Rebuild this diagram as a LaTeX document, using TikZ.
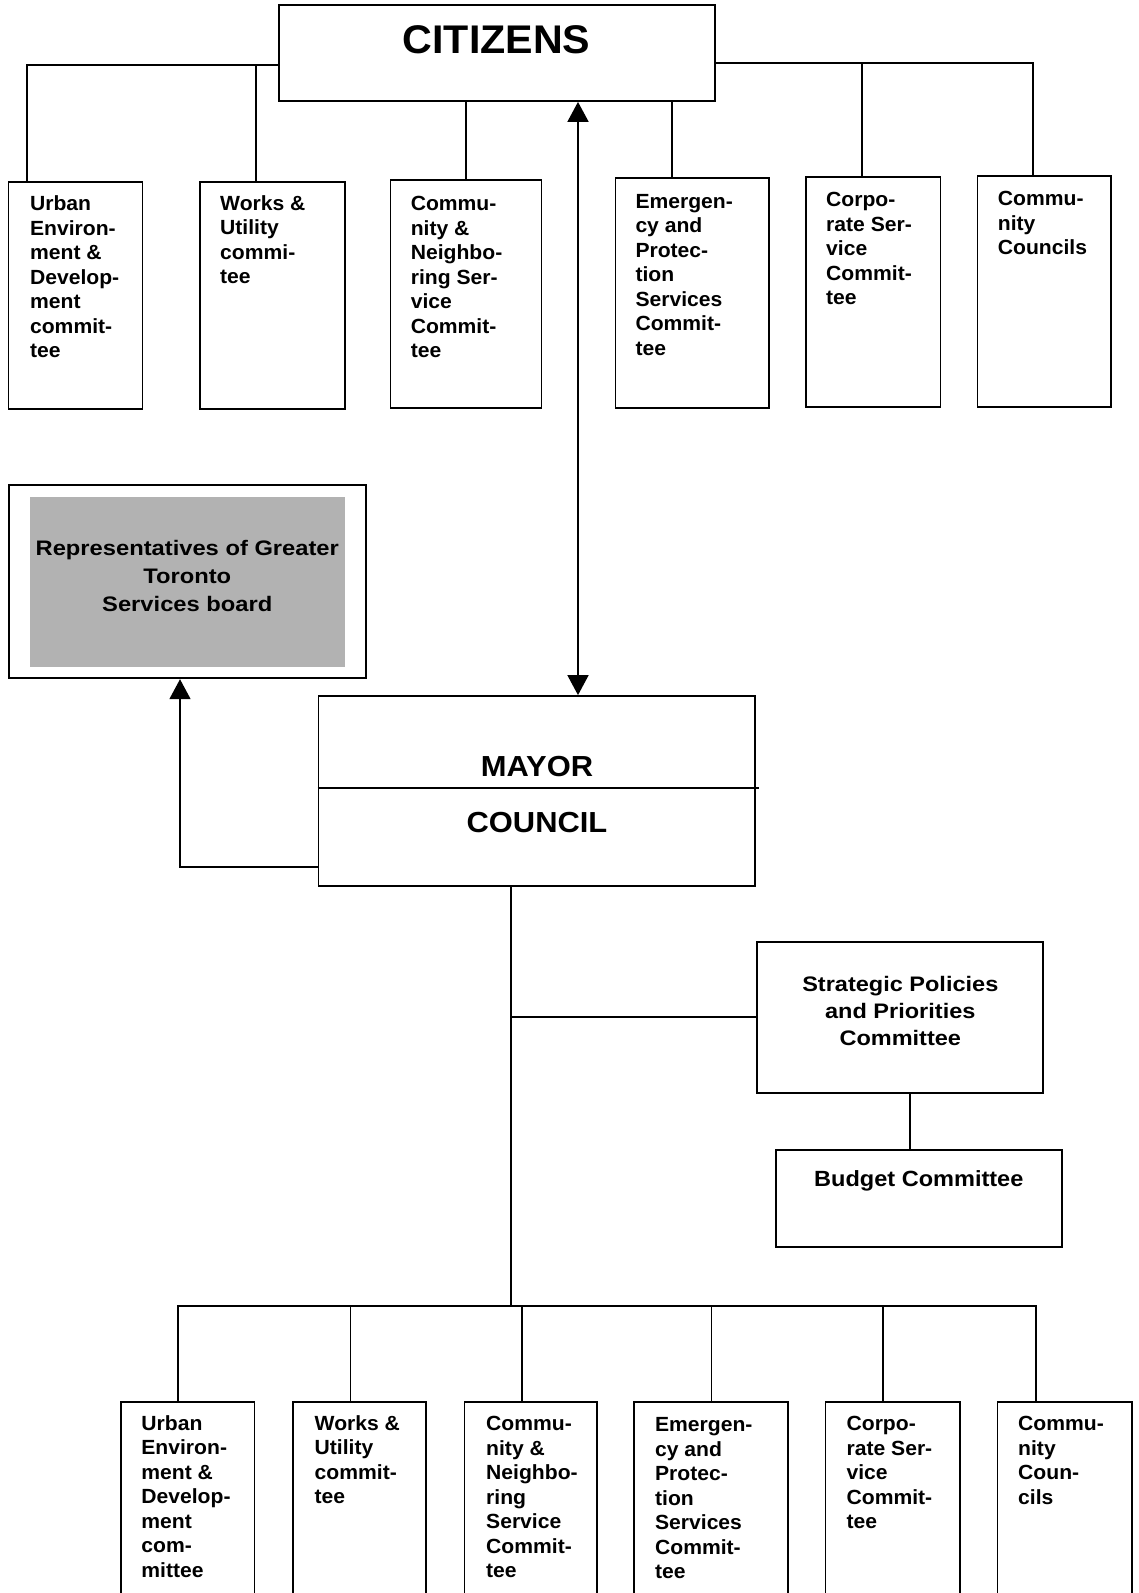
\documentclass[tikz,border=0pt]{standalone}
\usepackage{fontspec}
\usepackage{graphicx}
\setmainfont{Liberation Sans}
\usetikzlibrary{arrows.meta,fit}
\definecolor{shade}{RGB}{178,178,178}
\newcommand{\sx}[2]{\scalebox{#1}[1]{#2}}
\tikzset{tri/.tip={Triangle[length=20pt,width=21pt]}}
\begin{document}
\begin{tikzpicture}[x=1pt,y=-1pt,
  ln/.style={line width=1.8pt},
  box/.style={draw, line width=1.8pt, inner sep=0pt},
  tl/.style={inner sep=0pt, anchor=base west, font=\bfseries\fontsize{20.5}{24.5}\selectfont},
  cen/.style={inner sep=0pt, anchor=base}]
\useasboundingbox (0,0) rectangle (1138,1593);
\clip (0,0) rectangle (1138,1593);

% boxes
\node[box, fit={(278.6,5) (714.7,101)}] (cit) {};
\node[box, fit={(8.4,181.7) (142.4,409.3)}] (u1) {};
\node[box, fit={(199.8,181.7) (345.2,409.3)}] (u2) {};
\node[box, fit={(390.4,180) (541.5,408.3)}] (u3) {};
\node[box, fit={(615.5,178.3) (768.8,408.3)}] (u4) {};
\node[box, fit={(805.8,176.7) (940.5,407.3)}] (u5) {};
\node[box, fit={(977.5,175.7) (1111,406.7)}] (u6) {};
\node[fill=shade, inner sep=0pt, fit={(30,496.7) (345,667.3)}] (gr) {};
\node[box, fit={(8.7,485) (366,678.3)}] (rep) {};
\node[box, fit={(318.5,696) (755,886)}] (may) {};
\node[box, fit={(757.3,941.7) (1043.3,1093.3)}] (sp) {};
\node[box, fit={(776,1150) (1061.7,1246.7)}] (bud) {};
\node[box, fit={(120.6,1402) (254.4,1640)}] (b1) {};
\node[box, fit={(292.9,1402) (426,1640)}] (b2) {};
\node[box, fit={(464.5,1402) (597,1640)}] (b3) {};
\node[box, fit={(634.3,1402) (788,1640)}] (b4) {};
\node[box, fit={(825.5,1402) (960.3,1640)}] (b5) {};
\node[box, fit={(997.4,1402) (1132,1640)}] (b6) {};

% helper coordinates
\coordinate (yL) at (0,65);
\coordinate (yR) at (0,63.3);
\coordinate (xa) at (26.8,0);
\coordinate (xb) at (255.6,0);
\coordinate (xc) at (465.7,0);
\coordinate (xd) at (671.6,0);
\coordinate (xe) at (862.3,0);
\coordinate (xf) at (1033,0);
\coordinate (xm) at (578,0);
\coordinate (yr) at (0,867.3);
\coordinate (xr) at (180,0);
\coordinate (ydiv) at (0,788.3);
\coordinate (xdv) at (759,0);
\coordinate (xt) at (511,0);
\coordinate (ybus) at (0,1306);
\coordinate (ysp) at (0,1017.3);
\coordinate (xs) at (910,0);
\coordinate (x1) at (178.2,0);
\coordinate (x2) at (350.5,0);
\coordinate (x3) at (522,0);
\coordinate (x4) at (711.5,0);
\coordinate (x5) at (883,0);
\coordinate (x6) at (1035.8,0);

% top connectors
\draw[ln] (cit.west |- yL) -| (u1.north -| xa);
\draw[ln] (xb |- yL) -- (u2.north -| xb);
\draw[ln] (cit.east |- yR) -| (u6.north -| xf);
\draw[ln] (xe |- yR) -- (u5.north -| xe);
\draw[ln] (cit.south -| xc) -- (u3.north -| xc);
\draw[ln] (cit.south -| xd) -- (u4.north -| xd);
\draw[ln, tri-tri] (cit.south -| xm) -- (may.north -| xm);
\draw[ln, -tri] (may.west |- yr) -| (rep.south -| xr);
\draw[ln] (may.west |- ydiv) -- (xdv |- ydiv);

% lower connectors
\draw[ln] (may.south -| xt) -- (xt |- ybus);
\draw[ln] (xt |- ysp) -- (sp.west |- ysp);
\draw[ln] (sp.south -| xs) -- (bud.north -| xs);
\draw[ln] (b1.north -| x1) |- (x6 |- ybus) -- (b6.north -| x6);
\draw[ln] (x2 |- ybus) -- (b2.north -| x2);
\draw[ln] (x3 |- ybus) -- (b3.north -| x3);
\draw[ln] (x4 |- ybus) -- (b4.north -| x4);
\draw[ln] (x5 |- ybus) -- (b5.north -| x5);

% texts
\node[cen, font=\bfseries\fontsize{40}{46}\selectfont] (tcit) at (496.5,53.3) {\sx{1.03}{CITIZENS}};

\node[tl] (t1) at (29.9,210.7) {\sx{1.03}{\begin{tabular}[t]{@{}l@{}}Urban\\Environ-\\ment \&\\Develop-\\ment\\commit-\\tee\end{tabular}}};
\node[tl] (t2) at (220,210) {\sx{1.03}{\begin{tabular}[t]{@{}l@{}}Works \&\\Utility\\commi-\\tee\end{tabular}}};
\node[tl] (t3) at (410.6,210.7) {\sx{1.03}{\begin{tabular}[t]{@{}l@{}}Commu-\\nity \&\\Neighbo-\\ring Ser-\\vice\\Commit-\\tee\end{tabular}}};
\node[tl] (t4) at (635.3,208.3) {\sx{1.03}{\begin{tabular}[t]{@{}l@{}}Emergen-\\cy and\\Protec-\\tion\\Services\\Commit-\\tee\end{tabular}}};
\node[tl] (t5) at (826,206.7) {\sx{1.03}{\begin{tabular}[t]{@{}l@{}}Corpo-\\rate Ser-\\vice\\Commit-\\tee\end{tabular}}};
\node[tl] (t6) at (997.7,205.7) {\sx{1.03}{\begin{tabular}[t]{@{}l@{}}Commu-\\nity\\Councils\end{tabular}}};

\node[cen, font=\bfseries\fontsize{21}{28}\selectfont] (trep) at (187.3,555) {\sx{1.13}{\begin{tabular}[t]{@{}c@{}}Representatives of Greater\\Toronto\\Services board\end{tabular}}};

\node[cen, font=\bfseries\fontsize{29}{34}\selectfont] (tmay) at (537,776.7) {\sx{1.065}{MAYOR}};
\node[cen, font=\bfseries\fontsize{29}{34}\selectfont] (tcou) at (537,832.7) {\sx{1.065}{COUNCIL}};

\node[cen, font=\bfseries\fontsize{21}{27}\selectfont] (tsp) at (900.3,991.7) {\sx{1.12}{\begin{tabular}[t]{@{}c@{}}Strategic Policies\\and Priorities\\Committee\end{tabular}}};
\node[cen, font=\bfseries\fontsize{22}{27}\selectfont] (tbud) at (918.8,1186.7) {\sx{1.07}{Budget Committee}};

\node[tl] (s1) at (141.2,1430) {\sx{1.03}{\begin{tabular}[t]{@{}l@{}}Urban\\Environ-\\ment \&\\Develop-\\ment\\com-\\mittee\end{tabular}}};
\node[tl] (s2) at (314.5,1430) {\sx{1.03}{\begin{tabular}[t]{@{}l@{}}Works \&\\Utility\\commit-\\tee\end{tabular}}};
\node[tl] (s3) at (486,1430.7) {\sx{1.03}{\begin{tabular}[t]{@{}l@{}}Commu-\\nity \&\\Neighbo-\\ring\\Service\\Commit-\\tee\end{tabular}}};
\node[tl] (s4) at (654.9,1431.7) {\sx{1.03}{\begin{tabular}[t]{@{}l@{}}Emergen-\\cy and\\Protec-\\tion\\Services\\Commit-\\tee\end{tabular}}};
\node[tl] (s5) at (846.4,1430.7) {\sx{1.03}{\begin{tabular}[t]{@{}l@{}}Corpo-\\rate Ser-\\vice\\Commit-\\tee\end{tabular}}};
\node[tl] (s6) at (1018,1430.7) {\sx{1.03}{\begin{tabular}[t]{@{}l@{}}Commu-\\nity\\Coun-\\cils\end{tabular}}};
\end{tikzpicture}
\end{document}
